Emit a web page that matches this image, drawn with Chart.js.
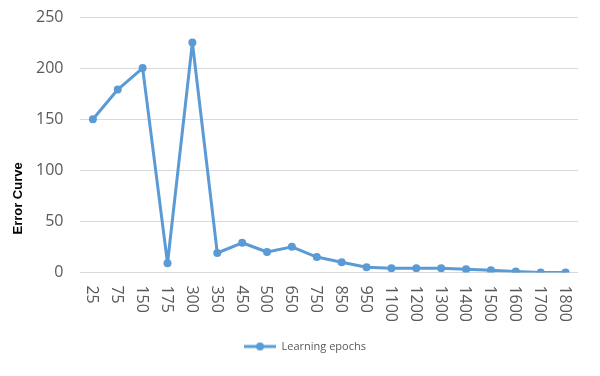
<!DOCTYPE html>
<html>
<head>
<meta charset="utf-8">
<script src="https://cdn.jsdelivr.net/npm/chart.js@4"></script>
<style>
  body { margin: 0; background: #fff; }
  #wrap { width: 600px; height: 376px; }
</style>
</head>
<body>
<div id="wrap"><canvas id="myChart"></canvas></div>
<script>
// Error curve over learning epochs

const epochs = ['25', '75', '150', '175', '300', '350', '450', '500', '650', '750',
  '850', '950', '1100', '1200', '1300', '1400', '1500', '1600', '1700', '1800'];
const errorValues = [150, 179, 200, 9, 225, 19, 29, 20, 25, 15,
  10, 5, 4, 4, 4, 3, 2, 1, 0, 0];
const yTicks = [0, 50, 100, 150, 200, 250];

const blue = '#5B9BD5';
const grey = '#595959';
const tickFont = { family: 'Open Sans', size: 16 };

// legend marker: short line with a dot
function legendMarker() {
    const c = document.createElement('canvas');
    c.width = 32; c.height = 10;
    const g = c.getContext('2d');
    g.strokeStyle = blue;
    g.lineWidth = 3;
    g.beginPath(); g.moveTo(0, 5); g.lineTo(32, 5); g.stroke();
    g.fillStyle = blue;
    g.beginPath(); g.arc(16, 5, 4, 0, Math.PI * 2); g.fill();
    return c;
}

// x labels read top to bottom, which chart.js can't rotate that way
const clockwiseLabels = {
    id: 'clockwiseLabels',
    afterDraw(chart) {
        const ctx = chart.ctx;
        const sx = chart.scales.x;
        ctx.save();
        ctx.fillStyle = grey;
        ctx.font = '16px "Open Sans"';
        ctx.textAlign = 'left';
        ctx.textBaseline = 'middle';
        epochs.forEach((lab, i) => {
            ctx.save();
            ctx.translate(sx.getPixelForTick(i) - 1, sx.top + 13);
            ctx.rotate(Math.PI / 2);
            ctx.fillText(lab, 0, 0);
            ctx.restore();
        });
        // y axis title
        ctx.translate(18, chart.chartArea.bottom - 74);
        ctx.rotate(-Math.PI / 2);
        ctx.fillStyle = '#000';
        ctx.font = 'bold 13px "Liberation Sans"';
        ctx.textAlign = 'center';
        ctx.fillText('Error Curve', 0, 0);
        ctx.restore();
    }
};

const chart = new Chart(document.getElementById('myChart'), {
    type: 'line',
    data: {
        labels: epochs,
        datasets: [{
            label: 'Learning epochs',
            data: errorValues,
            borderColor: blue,
            backgroundColor: blue,
            borderWidth: 3,
            borderJoinStyle: 'round',
            pointRadius: 4,
            pointBackgroundColor: blue,
            pointBorderWidth: 0,
            tension: 0,
            fill: false
        }]
    },
    options: {
        responsive: true,
        maintainAspectRatio: false,
        animation: false,
        layout: { padding: { left: 32, right: 22, top: 17, bottom: 14 } },
        plugins: {
            tooltip: { enabled: false },
            legend: {
                position: 'bottom',
                labels: {
                    usePointStyle: true,
                    pointStyleWidth: 32,
                    boxHeight: 10,
                    color: grey,
                    font: { family: 'Open Sans', size: 11 },
                    padding: 10,
                    generateLabels: (ch) => [{
                        text: 'Learning epochs',
                        pointStyle: legendMarker(),
                        fillStyle: blue,
                        strokeStyle: blue,
                        lineWidth: 0,
                        fontColor: grey,
                        datasetIndex: 0
                    }]
                }
            }
        },
        scales: {
            x: {
                offset: true,
                grid: { display: false, drawTicks: false },
                border: { display: false },
                ticks: {
                    autoSkip: false,
                    minRotation: 90,
                    maxRotation: 90,
                    padding: 11,
                    color: 'rgba(0,0,0,0)',
                    font: tickFont
                }
            },
            y: {
                min: 0,
                max: 250,
                afterBuildTicks: (s) => { s.ticks = yTicks.map(v => ({ value: v })); },
                grid: {
                    color: '#D9D9D9',
                    lineWidth: 1,
                    drawTicks: true,
                    tickLength: 13,
                    tickColor: 'rgba(0,0,0,0)'
                },
                border: { display: false },
                ticks: {
                    padding: 4,
                    color: grey,
                    font: tickFont
                }
            }
        }
    },
    plugins: [clockwiseLabels]
});
</script>
</body>
</html>
